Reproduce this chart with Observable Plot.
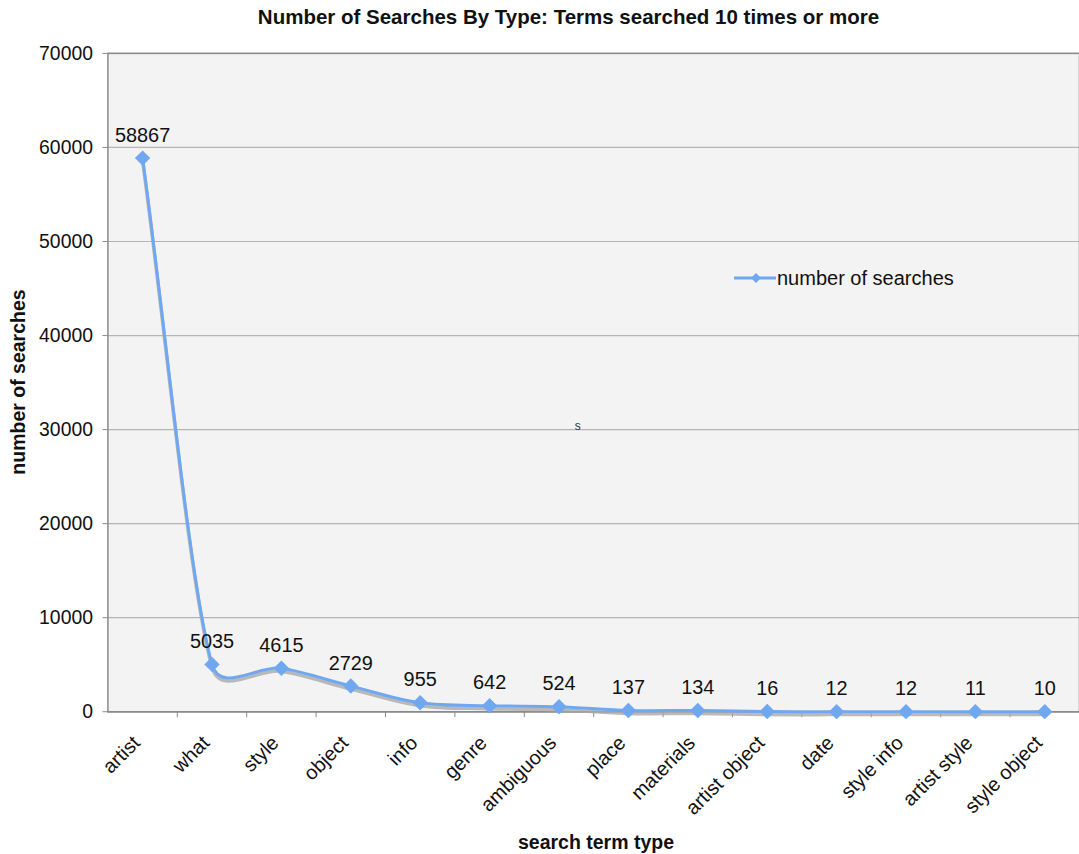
<!DOCTYPE html>
<html>
<head>
<meta charset="utf-8">
<script src="https://cdn.jsdelivr.net/npm/d3@7"></script>
<script src="https://cdn.jsdelivr.net/npm/@observablehq/plot@0.6"></script>
<style>
  html, body { margin: 0; padding: 0; background: #fff; overflow: hidden; }
  body { width: 1079px; height: 854px; position: relative; font-family: "Liberation Sans", Arial, sans-serif; color: #111; }
  #title { position: absolute; left: 29px; top: 4px; width: 1079px; height: 26px; line-height: 26px; text-align: center; font-weight: bold; font-size: 20.5px; }
  #chart { position: absolute; left: 0; top: 36px; }
  #chart svg { display: block; }
  #ylabel { position: absolute; left: 18px; top: 382px; width: 0; height: 0; }
  #ylabel span { position: absolute; left: 0; top: 0; transform: translate(-50%, -50%) rotate(-90deg); white-space: nowrap; font-weight: bold; font-size: 19.5px; line-height: 22px; }
  #xlabel { position: absolute; left: 596px; top: 842px; width: 0; height: 0; }
  #xlabel span { position: absolute; left: 0; top: 0; transform: translate(-50%, -50%); white-space: nowrap; font-weight: bold; font-size: 19.5px; line-height: 22px; }
  #legend { position: absolute; left: 733px; top: 267px; font-size: 20px; line-height: 22px; display: flex; align-items: center; }
  svg [aria-label*="axis"] line, svg [aria-label*="axis"] path { stroke: #8a8a8a; }
</style>
</head>
<body>
<div id="title">Number of Searches By Type: Terms searched 10 times or more</div>
<div id="chart"></div>
<div id="ylabel"><span>number of searches</span></div>
<div id="xlabel"><span>search term type</span></div>
<div id="legend"><svg width="44" height="16"><line x1="1" y1="8" x2="43" y2="8" stroke="#6fa8f0" stroke-width="3"/><path d="M18,8 L23,3 L28,8 L23,13 Z" fill="#6fa8f0"/></svg><span>number of searches</span></div>
<script>
const categories = ["artist", "what", "style", "object", "info", "genre", "ambiguous", "place", "materials", "artist object", "date", "style info", "artist style", "style object"];
const searches = [58867, 5035, 4615, 2729, 955, 642, 524, 137, 134, 16, 12, 12, 11, 10];
const yTicks = [0, 10000, 20000, 30000, 40000, 50000, 60000, 70000];
const strayNote = [{pos: 6.77, value: 30400, text: "s"}];

const data = categories.map((c, i) => ({cat: c, pos: i + 0.5, value: searches[i]}));
const bounds = d3.range(1, categories.length + 1);
const blue = "#6fa8f0";

// Spreadsheet-style smoothed line: Catmull-Rom tangents (1/6), each arm clamped to a share of its segment
function smoothCurve(context) {
  const clampK = 0.45;
  let pts = [];
  return {
    areaStart() {}, areaEnd() {},
    lineStart() { pts = []; },
    point(x, y) { pts.push([+x, +y]); },
    lineEnd() {
      const n = pts.length;
      if (!n) return;
      context.moveTo(pts[0][0], pts[0][1]);
      if (n === 1) return;
      const cin = [], cout = [];
      for (let i = 0; i < n; i++) {
        const p1 = pts[i];
        let tx, ty;
        if (i === 0) { tx = (pts[1][0] - p1[0]) / 3; ty = (pts[1][1] - p1[1]) / 3; }
        else if (i === n - 1) { tx = (p1[0] - pts[i - 1][0]) / 3; ty = (p1[1] - pts[i - 1][1]) / 3; }
        else { tx = (pts[i + 1][0] - pts[i - 1][0]) / 6; ty = (pts[i + 1][1] - pts[i - 1][1]) / 6; }
        const len = Math.hypot(tx, ty) || 1;
        const dPrev = i > 0 ? Math.hypot(p1[0] - pts[i - 1][0], p1[1] - pts[i - 1][1]) : Infinity;
        const dNext = i < n - 1 ? Math.hypot(pts[i + 1][0] - p1[0], pts[i + 1][1] - p1[1]) : Infinity;
        const sIn = Math.min(1, clampK * dPrev / len);
        const sOut = Math.min(1, clampK * dNext / len);
        cin[i] = [p1[0] - tx * sIn, p1[1] - ty * sIn];
        cout[i] = [p1[0] + tx * sOut, p1[1] + ty * sOut];
      }
      for (let i = 1; i < n; i++) {
        context.bezierCurveTo(cout[i - 1][0], cout[i - 1][1], cin[i][0], cin[i][1], pts[i][0], pts[i][1]);
      }
    }
  };
}

const chart = Plot.plot({
  width: 1085,
  height: 822,
  marginTop: 17,
  marginBottom: 143,
  marginLeft: 108,
  marginRight: 0,
  style: {fontFamily: "'Liberation Sans', Arial, sans-serif", fontSize: "19.5px", color: "#111", background: "transparent"},
  x: {domain: [0, categories.length], ticks: bounds, tickFormat: () => "", tickSize: 6, label: null},
  y: {domain: [0, 70000], ticks: yTicks, tickFormat: "d", tickSize: 5, tickPadding: 10, label: null},
  marks: [
    Plot.frame({fill: "#f3f3f3", stroke: "none"}),
    Plot.ruleY(yTicks, {stroke: "#b5b5b5", strokeWidth: 1.2}),
    Plot.ruleY([0], {stroke: "#8a8a8a", strokeWidth: 1.5}),
    Plot.frame({stroke: "#8a8a8a", strokeWidth: 1.5, fill: "none"}),
    Plot.line(data, {x: "pos", y: "value", curve: smoothCurve, stroke: "#a9a9a9", strokeWidth: 3.5, dy: 3, strokeOpacity: 0.8}),
    Plot.line(data, {x: "pos", y: "value", curve: smoothCurve, stroke: blue, strokeWidth: 3}),
    Plot.dot(data, {x: "pos", y: "value", symbol: "diamond2", r: 7, fill: blue, stroke: "none"}),
    Plot.text(data, {x: "pos", y: "value", text: d => String(d.value), dy: -23, fontSize: 20, fill: "#111"}),
    Plot.text(data, {x: "pos", y: 0, text: "cat", rotate: -45, textAnchor: "end", dx: -6, dy: 28, fontSize: 20, fill: "#111"}),
    Plot.text(strayNote, {x: "pos", y: "value", text: "text", fontSize: 12, fill: "#333"})
  ]
});
document.getElementById("chart").appendChild(chart);
</script>
</body>
</html>
